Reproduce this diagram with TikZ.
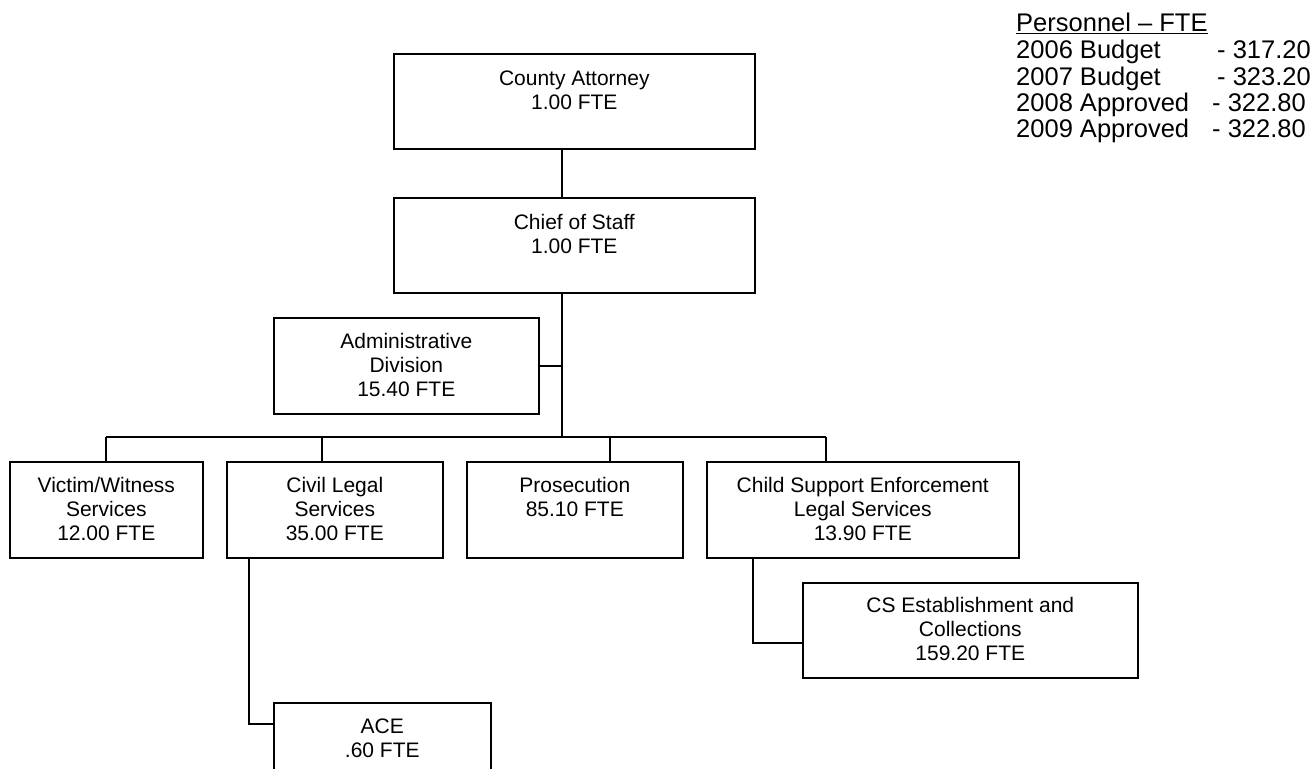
\documentclass[tikz,border=0pt]{standalone}
\usepackage{fontspec}
\setmainfont{Liberation Sans}
\newcommand\tb[1]{\begin{tabular}[t]{@{}c@{}}#1\end{tabular}}
\begin{document}
\begin{tikzpicture}[x=1pt,y=-1pt,
  box/.style={draw, line width=1.6pt, inner sep=0pt, anchor=north west},
  lbl/.style={inner sep=0pt, anchor=base, font=\fontsize{21}{24}\selectfont},
  pers/.style={inner sep=0pt, anchor=base west, font=\fontsize{25.5}{26}\selectfont},
  conn/.style={line width=1.6pt}]
\useasboundingbox (0,0) rectangle (1313,768);
\clip (0,0) rectangle (1313,768);
% boxes
\node[box, minimum width=361pt, minimum height=95pt] (ca) at (393,53) {};
\node[box, minimum width=361pt, minimum height=95pt] (cos) at (393,197) {};
\node[box, minimum width=265pt, minimum height=96pt] (adm) at (273,317) {};
\node[box, minimum width=193pt, minimum height=96pt] (vw) at (9,461) {};
\node[box, minimum width=216pt, minimum height=96pt] (cl) at (226,461) {};
\node[box, minimum width=216pt, minimum height=96pt] (pr) at (466,461) {};
\node[box, minimum width=312pt, minimum height=96pt] (cs) at (706,461) {};
\node[box, minimum width=335pt, minimum height=95pt] (cse) at (802,582) {};
\node[box, minimum width=217pt, minimum height=90pt] (ace) at (273,702) {};
% labels
\node[lbl] (caT) at ([yshift=-32pt]ca.north) {\tb{County Attorney\\1.00 FTE}};
\node[lbl] (cosT) at ([yshift=-32pt]cos.north) {\tb{Chief of Staff\\1.00 FTE}};
\node[lbl] (admT) at ([yshift=-31pt]adm.north) {\tb{Administrative\\Division\\15.40 FTE}};
\node[lbl] (vwT) at ([yshift=-31pt]vw.north) {\tb{Victim/Witness\\Services\\12.00 FTE}};
\node[lbl] (clT) at ([yshift=-31pt]cl.north) {\tb{Civil Legal\\Services\\35.00 FTE}};
\node[lbl] (prT) at ([yshift=-31pt]pr.north) {\tb{Prosecution\\85.10 FTE}};
\node[lbl] (csT) at ([yshift=-31pt]cs.north) {\tb{Child Support Enforcement\\Legal Services\\13.90 FTE}};
\node[lbl] (cseT) at ([yshift=-30pt]cse.north) {\tb{CS Establishment and\\Collections\\159.20 FTE}};
\node[lbl] (aceT) at ([yshift=-31pt]ace.north) {\tb{ACE\\.60 FTE}};
% junction coordinates
\coordinate (tr) at (562,0);
\coordinate (bus) at (562,437);
\coordinate (s1) at (106,437);
\coordinate (s2) at (322,437);
\coordinate (s3) at (610,437);
\coordinate (s4) at (826,437);
\coordinate (c1) at (249,0);
\coordinate (aceJ) at (273,724);
\coordinate (c2) at (753,0);
\coordinate (cseJ) at (802,643);
% connectors
\draw[conn] (tr |- ca.south) -- (tr |- cos.north);
\draw[conn] (tr |- cos.south) -- (bus);
\draw[conn] (adm.east) -- (adm.east -| tr);
\draw[conn] (s1) -- (s4);
\draw[conn] (s1) -- (s1 |- vw.north);
\draw[conn] (s2) -- (s2 |- cl.north);
\draw[conn] (s3) -- (s3 |- pr.north);
\draw[conn] (s4) -- (s4 |- cs.north);
\draw[conn] (c1 |- cl.south) |- (aceJ);
\draw[conn] (c2 |- cs.south) |- (cseJ);
% personnel
\node[pers] (p0) at (1016,32) {\underline{Personnel – FTE}};
\node[pers] (p1) at (1016,58.5) {2006 Budget};
\node[pers] (p1v) at (1217,58.5) {- 317.20};
\node[pers] (p2) at (1016,85) {2007 Budget};
\node[pers] (p2v) at (1217,85) {- 323.20};
\node[pers] (p3) at (1016,111) {2008 Approved};
\node[pers] (p3v) at (1212,111) {- 322.80};
\node[pers] (p4) at (1016,137) {2009 Approved};
\node[pers] (p4v) at (1212,137) {- 322.80};
\end{tikzpicture}
\end{document}
